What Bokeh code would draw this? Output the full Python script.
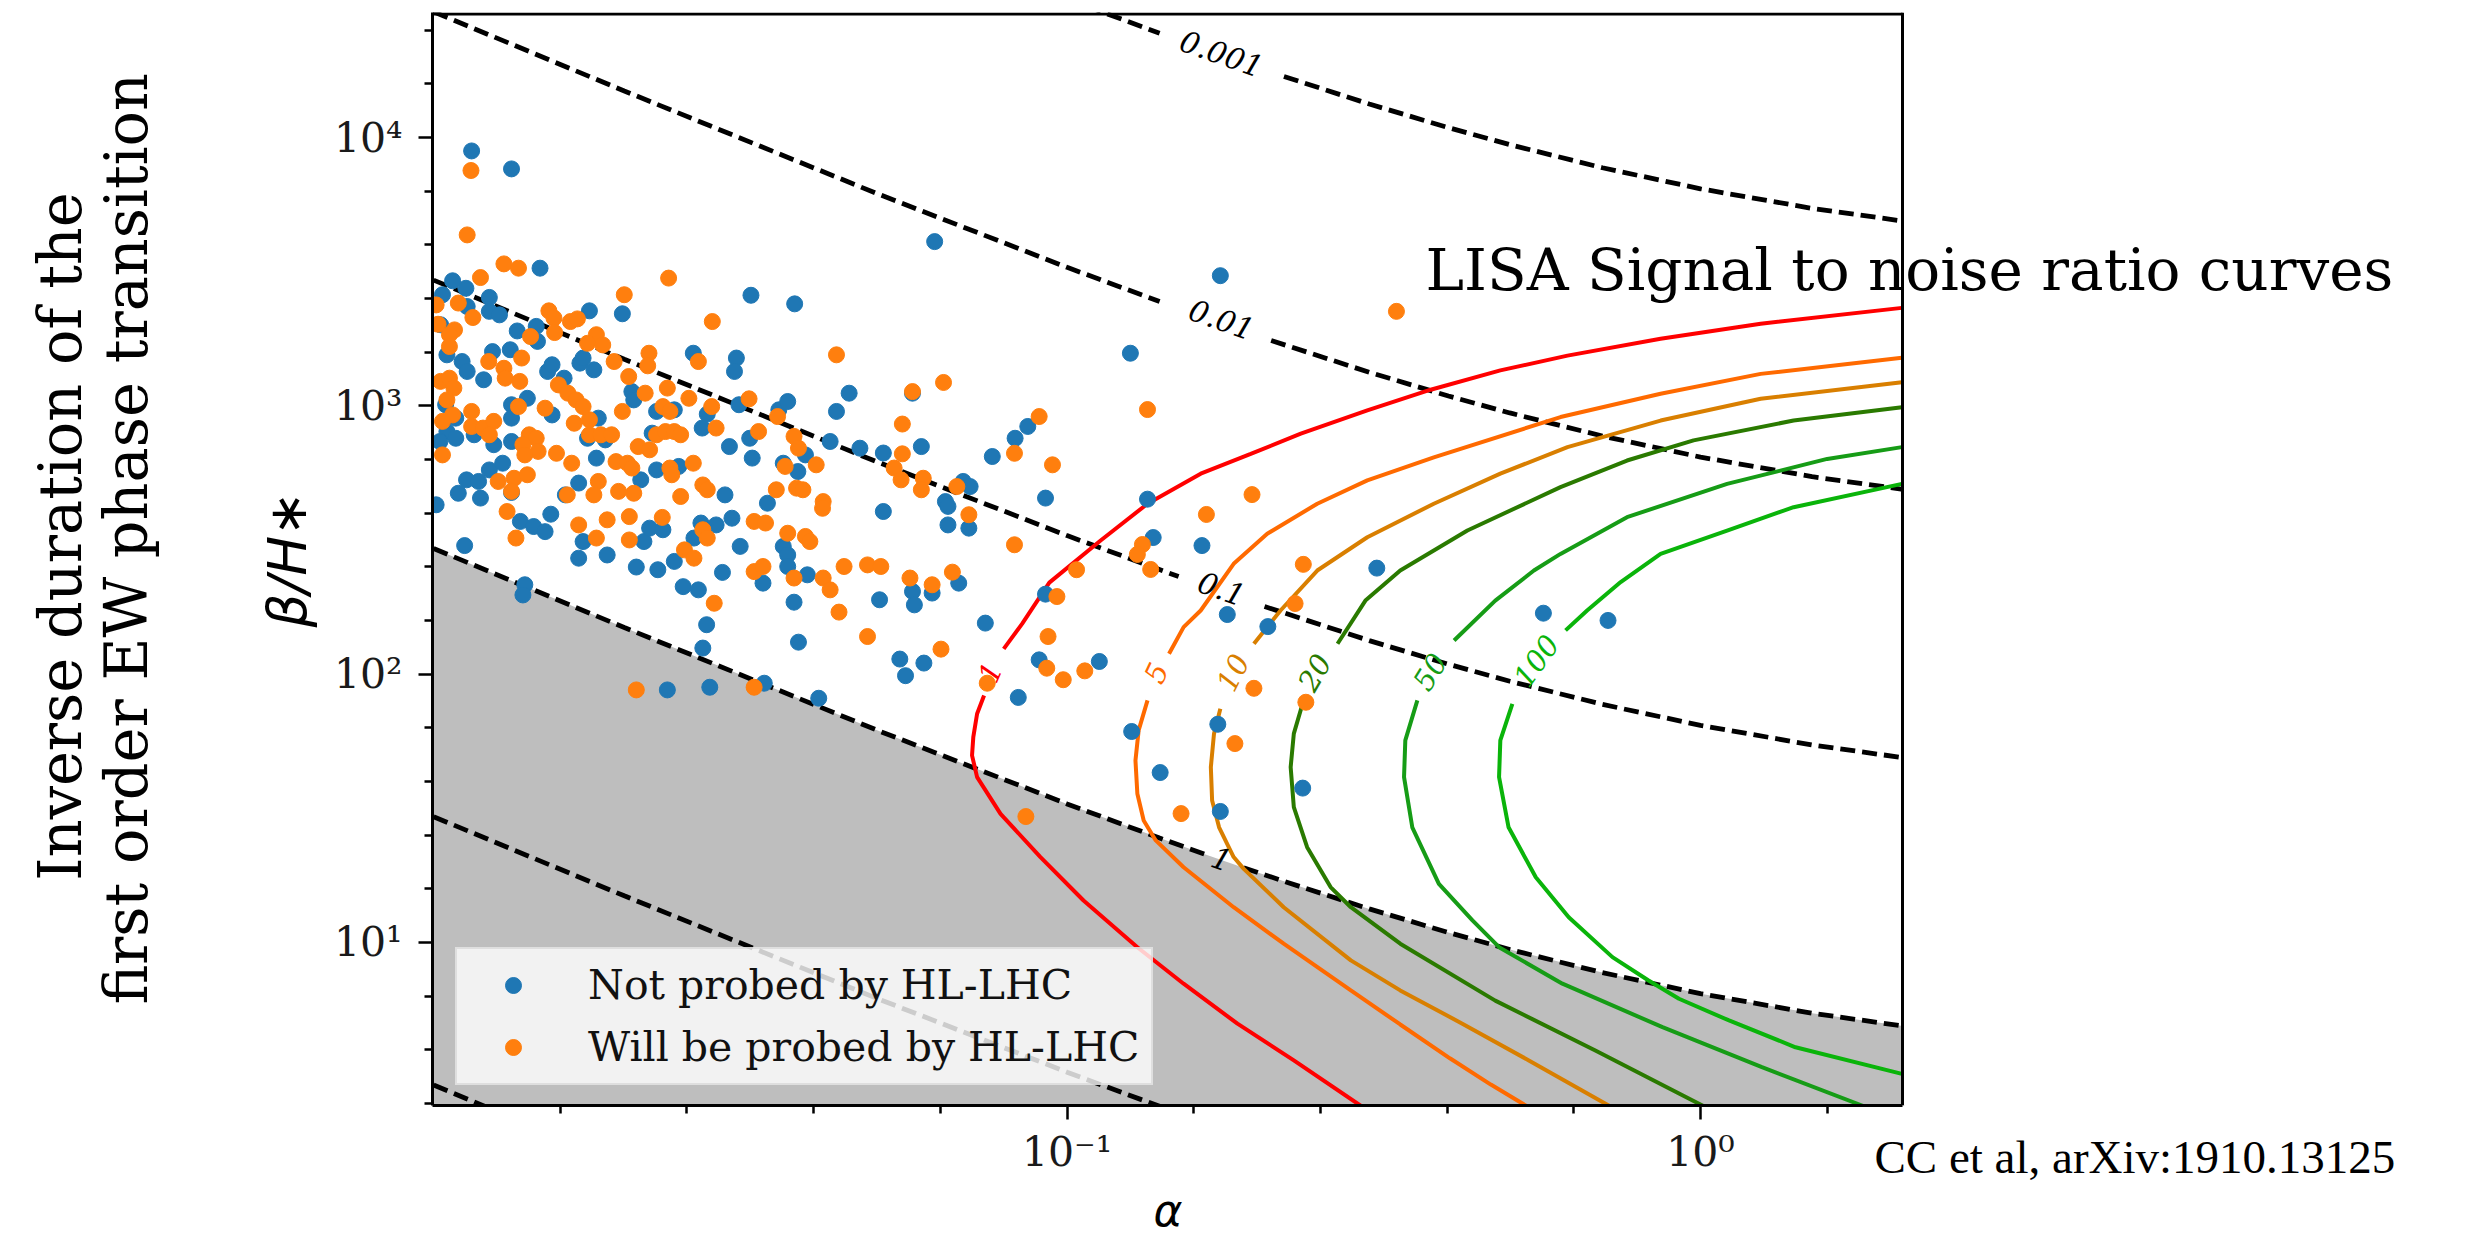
import math
import numpy as np
from bokeh.plotting import figure
from bokeh.models import Range1d, FixedTicker, Label, BoxAnnotation, Span
from bokeh.embed import file_html
from bokeh.resources import INLINE

nan = float("nan")

# ---------------- data ----------------
# scatter points, stored as (log10 alpha, log10 beta/H*)
not_probed_pts = [
    (-1.940, 3.950), (-1.877, 3.883), (-1.832, 3.513), (-1.970, 3.466), (-1.986, 3.414), (-1.949, 3.438), (-1.947, 3.370), (-1.912, 3.404), (-1.912, 3.352), (-1.896, 3.339),
    (-1.702, 3.343), (-1.499, 3.412), (-1.430, 3.380), (-1.754, 3.354), (-1.209, 3.612), (-1.989, 3.302), (-1.979, 3.190), (-1.868, 3.279), (-1.838, 3.296), (-1.836, 3.240),
    (-1.907, 3.202), (-1.879, 3.209), (-1.820, 3.128), (-1.813, 3.153), (-1.955, 3.165), (-1.947, 3.128), (-1.921, 3.097), (-1.794, 3.103), (-1.769, 3.159), (-1.764, 3.178),
    (-1.747, 3.134), (-1.590, 3.196), (-1.522, 3.178), (-1.525, 3.128), (-1.244, 3.047), (-1.344, 3.047), (-1.364, 2.979), (-1.062, 2.923), (-1.082, 2.879), (-1.118, 2.811),
    (-1.230, 2.848), (-1.290, 2.824), (-1.327, 2.842), (-1.374, 2.867), (-1.413, 2.817), (-1.425, 2.755), (-1.448, 2.786), (-1.455, 2.985), (-1.441, 3.016), (-1.518, 3.004),
    (-1.568, 2.969), (-1.576, 2.917), (-1.687, 3.053), (-1.684, 3.022), (-1.648, 2.979), (-1.620, 2.985), (-1.740, 2.954), (-1.813, 2.966), (-1.877, 3.004), (-1.877, 2.954),
    (-1.852, 3.028), (-1.981, 3.004), (-1.965, 2.954), (-1.979, 2.904), (-1.965, 2.879), (-1.936, 2.892), (-1.905, 2.855), (-1.990, 2.867), (-1.877, 2.867), (-1.743, 2.805),
    (-1.757, 2.879), (-1.729, 2.873), (-1.655, 2.898), (-1.533, 2.848), (-1.501, 2.879), (-1.497, 2.805), (-1.648, 2.761), (-1.613, 2.774), (-1.912, 2.761), (-1.891, 2.786),
    (-1.948, 2.724), (-1.929, 2.718), (-1.961, 2.674), (-1.877, 2.677), (-1.926, 2.656), (-1.771, 2.712), (-1.673, 2.724), (-1.540, 2.668), (-1.164, 2.718), (-1.153, 2.699),
    (-1.034, 2.656), (-1.192, 2.643), (-1.792, 2.668),
    (-1.996, 2.631), (-1.863, 2.569), (-1.842, 2.550), (-1.824, 2.531), (-1.815, 2.596), (-1.951, 2.479), (-1.771, 2.432), (-1.764, 2.494), (-1.726, 2.444), (-1.680, 2.399),
    (-1.668, 2.494), (-1.659, 2.544), (-1.646, 2.389), (-1.638, 2.538), (-1.620, 2.420), (-1.589, 2.507), (-1.578, 2.563), (-1.554, 2.556), (-1.544, 2.379), (-1.529, 2.581),
    (-1.516, 2.476), (-1.480, 2.339), (-1.473, 2.637), (-1.448, 2.476), (-1.441, 2.444), (-1.441, 2.401), (-1.410, 2.370), (-1.290, 2.606), (-1.244, 2.308), (-1.241, 2.258),
    (-1.213, 2.302), (-1.171, 2.339), (-1.188, 2.625), (-1.188, 2.556), (-1.155, 2.544), (-1.034, 2.298), (-1.129, 2.190), (-1.264, 2.056), (-1.255, 1.994), (-1.226, 2.041),
    (-1.044, 2.053), (-0.949, 2.047), (-1.077, 1.913), (-1.606, 2.326), (-1.582, 2.314), (-1.569, 2.184), (-1.575, 2.097), (-1.431, 2.268), (-1.424, 2.119), (-1.296, 2.277),
    (-1.856, 2.333), (-1.859, 2.295), (-1.631, 1.941), (-1.564, 1.951), (-1.478, 1.966), (-1.392, 1.910),
    (-0.758, 3.485), (-0.900, 3.196), (-0.873, 2.652), (-0.864, 2.509), (-0.787, 2.479), (-0.511, 2.395), (-0.747, 2.222), (-0.683, 2.177), (-0.248, 2.227), (-0.146, 2.200),
    (-0.762, 1.813), (-0.628, 1.575), (-0.898, 1.786), (-0.853, 1.633), (-0.758, 1.488),
]
will_be_probed_pts = [
    (-1.941, 3.877), (-1.947, 3.637), (-1.889, 3.529), (-1.866, 3.513), (-1.926, 3.478), (-1.961, 3.383), (-1.938, 3.329), (-1.996, 3.376), (-1.629, 3.476), (-1.699, 3.414),
    (-1.818, 3.354), (-1.810, 3.327), (-1.784, 3.314), (-1.773, 3.324), (-1.560, 3.314), (-1.993, 3.304), (-1.967, 3.283), (-1.975, 3.265), (-1.975, 3.221), (-1.847, 3.258),
    (-1.809, 3.273), (-1.743, 3.265), (-1.757, 3.233), (-1.733, 3.227), (-1.913, 3.165), (-1.889, 3.140), (-1.861, 3.178), (-1.887, 3.103), (-1.864, 3.091), (-1.715, 3.165),
    (-1.660, 3.196), (-1.662, 3.149), (-1.692, 3.109), (-1.582, 3.165), (-1.364, 3.190), (-1.195, 3.087), (-1.244, 3.053), (-1.044, 2.960), (-1.083, 2.823), (-1.023, 2.780),
    (-1.260, 2.932), (-1.260, 2.821), (-1.396, 2.780), (-1.445, 2.774), (-1.457, 2.960), (-1.431, 2.886), (-1.424, 2.842), (-1.502, 3.026), (-1.561, 2.997), (-1.554, 2.917),
    (-1.597, 3.028), (-1.631, 3.066), (-1.666, 3.047), (-1.638, 2.997), (-1.627, 2.979), (-1.702, 2.979), (-1.754, 2.948), (-1.778, 2.935), (-1.824, 2.991), (-1.866, 2.997),
    (-1.803, 3.078), (-1.788, 3.047), (-1.775, 3.022), (-1.764, 2.997), (-1.989, 3.091), (-1.975, 3.103), (-1.968, 3.066), (-1.979, 3.022), (-1.970, 2.966), (-1.940, 2.979),
    (-1.986, 2.942), (-1.940, 2.923), (-1.922, 2.917), (-1.905, 2.942), (-1.912, 2.892), (-1.986, 2.817), (-1.849, 2.892), (-1.838, 2.879), (-1.859, 2.855), (-1.835, 2.830),
    (-1.856, 2.817), (-1.806, 2.823), (-1.782, 2.786), (-1.754, 2.892), (-1.736, 2.892), (-1.719, 2.892), (-1.677, 2.848), (-1.659, 2.836), (-1.648, 2.892), (-1.634, 2.904),
    (-1.620, 2.904), (-1.610, 2.892), (-1.487, 2.904), (-1.590, 2.786), (-1.712, 2.792), (-1.694, 2.786), (-1.687, 2.768), (-1.627, 2.768), (-1.624, 2.743), (-1.898, 2.718),
    (-1.873, 2.730), (-1.852, 2.743), (-1.877, 2.681), (-1.789, 2.668), (-1.740, 2.718), (-1.747, 2.668), (-1.708, 2.681), (-1.684, 2.674), (-1.610, 2.662), (-1.575, 2.705),
    (-1.568, 2.687), (-1.459, 2.687), (-1.427, 2.693), (-1.417, 2.687), (-1.385, 2.643), (-1.174, 2.699), (-1.273, 2.768), (-1.262, 2.724), (-1.227, 2.730), (-1.230, 2.687),
    (-1.884, 2.606), (-1.870, 2.507), (-1.771, 2.556), (-1.743, 2.507), (-1.726, 2.575), (-1.691, 2.587), (-1.691, 2.500), (-1.639, 2.584), (-1.604, 2.463), (-1.589, 2.432),
    (-1.575, 2.538), (-1.568, 2.507), (-1.494, 2.569), (-1.476, 2.563), (-1.494, 2.382), (-1.480, 2.401), (-1.441, 2.525), (-1.431, 2.358), (-1.413, 2.513), (-1.406, 2.494),
    (-1.386, 2.618), (-1.385, 2.358), (-1.374, 2.314), (-1.352, 2.401), (-1.315, 2.407), (-1.294, 2.401), (-1.248, 2.358), (-1.213, 2.333), (-1.181, 2.380), (-1.155, 2.594),
    (-1.083, 2.482), (-0.985, 2.389), (-1.016, 2.289), (-1.030, 2.140), (-1.315, 2.140), (-1.199, 2.093), (-1.126, 1.966), (-1.032, 2.022), (-1.006, 1.979), (-0.972, 2.012),
    (-1.065, 1.469), (-1.557, 2.264), (-1.360, 2.231), (-1.680, 1.941), (-1.494, 1.951),
    (-0.480, 3.352), (-0.873, 2.986), (-0.780, 2.595), (-0.708, 2.669), (-0.881, 2.483), (-0.889, 2.446), (-0.868, 2.390), (-0.627, 2.409), (-0.640, 2.263), (-0.705, 1.947),
    (-0.623, 1.895), (-0.735, 1.741), (-0.820, 1.480),
]

# dashed contours (H* tau_sh levels): alpha and beta/H* values
tau_levels = ["0.001", "0.01", "0.1", "1", "10", "100"]
tau_0p001_alpha = [0.01, 0.02, 0.05, 0.1, 0.14, nan, 0.22, 0.3, 0.4, 0.5, 0.7, 1.0, 1.5, 2.1]
tau_0p001_beta = [294000, 149100, 61940, 32820, 24480, nan, 16890, 13330, 10880, 9405, 7714, 6440, 5444, 4871]
tau_0p01_alpha = [0.01, 0.02, 0.05, 0.1, 0.14, nan, 0.21, 0.3, 0.4, 0.5, 0.7, 1.0, 1.5, 2.1]
tau_0p01_beta = [29400, 14910, 6194, 3282, 2448, nan, 1752, 1333, 1088, 940.5, 771.4, 644.0, 544.4, 487.1]
tau_0p1_alpha = [0.01, 0.02, 0.05, 0.1, 0.15, nan, 0.205, 0.3, 0.4, 0.5, 0.7, 1.0, 1.5, 2.1]
tau_0p1_beta = [2940, 1491, 619.4, 328.2, 230.9, nan, 178.6, 133.3, 108.8, 94.05, 77.14, 64.40, 54.44, 48.71]
tau_1_alpha = [0.01, 0.02, 0.05, 0.1, 0.14, 0.165, nan, 0.19, 0.22, 0.3, 0.4, 0.5, 0.7, 1.0, 1.5, 2.1]
tau_1_beta = [294.0, 149.1, 61.94, 32.82, 24.48, 21.32, nan, 18.99, 16.89, 13.33, 10.88, 9.405, 7.714, 6.440, 5.444, 4.871]
tau_10_alpha = [0.01, 0.02, 0.05, 0.1, 0.14, 0.2]
tau_10_beta = [29.40, 14.91, 6.194, 3.282, 2.448, 1.822]
tau_100_alpha = [0.01, 0.02]
tau_100_beta = [2.940, 1.491]

# shaded region boundary (tau_sh H* = 1)
shade_alpha = [0.01, 0.02, 0.05, 0.1, 0.14, 0.165, 0.19, 0.22, 0.3, 0.4, 0.5, 0.7, 1.0, 1.5, 2.1]
shade_beta = [294.0, 149.1, 61.94, 32.82, 24.48, 21.32, 18.99, 16.89, 13.33, 10.88, 9.405, 7.714, 6.440, 5.444, 4.871]

# LISA SNR contours, log10 alpha / log10 beta (nan = gap for the inline label)
snr_levels = ["1", "5", "10", "20", "50", "100"]
snr1_log_alpha = [0.318, 0.095, -0.063, -0.210, -0.316, -0.426, -0.526, -0.631, -0.710, -0.789, -0.873, -0.947, -1.028, -1.071, -1.100, nan,
                  -1.131, -1.142, -1.148, -1.150, -1.142, -1.105, -1.042, -0.974, -0.889, -0.816, -0.731, -0.642, -0.537, -0.506]
snr1_log_beta = [3.365, 3.306, 3.250, 3.187, 3.132, 3.060, 2.983, 2.896, 2.821, 2.747, 2.635, 2.498, 2.341, 2.187, 2.094, nan,
                 1.920, 1.852, 1.765, 1.697, 1.616, 1.479, 1.318, 1.156, 0.982, 0.846, 0.697, 0.560, 0.392, 0.342]
snr5_log_alpha = [0.318, 0.095, -0.063, -0.221, -0.421, -0.526, -0.605, -0.684, -0.737, -0.789, -0.816, -0.839, nan,
                  -0.873, -0.887, -0.892, -0.889, -0.879, -0.860, -0.816, -0.737, -0.658, -0.552, -0.474, -0.395, -0.331, -0.276, -0.250]
snr5_log_beta = [3.179, 3.119, 3.045, 2.958, 2.808, 2.722, 2.635, 2.523, 2.411, 2.237, 2.175, 2.076, nan,
                 1.902, 1.790, 1.678, 1.554, 1.454, 1.380, 1.280, 1.131, 0.995, 0.821, 0.694, 0.567, 0.470, 0.392, 0.340]
snr10_log_alpha = [0.318, 0.095, -0.063, -0.210, -0.316, -0.421, -0.526, -0.605, -0.663, -0.705, nan,
                   -0.758, -0.768, -0.773, -0.771, -0.760, -0.737, -0.721, -0.658, -0.552, -0.474, -0.376, -0.271, -0.145, -0.110]
snr10_log_beta = [3.088, 3.026, 2.945, 2.846, 2.747, 2.635, 2.510, 2.386, 2.237, 2.113, nan,
                  1.871, 1.778, 1.653, 1.529, 1.429, 1.318, 1.274, 1.131, 0.933, 0.821, 0.697, 0.560, 0.392, 0.340]
snr20_log_alpha = [0.318, 0.147, -0.011, -0.116, -0.221, -0.368, -0.474, -0.529, -0.573, nan,
                   -0.629, -0.642, -0.647, -0.642, -0.621, -0.584, -0.552, -0.474, -0.324, -0.166, 0.003, 0.040]
snr20_log_beta = [2.995, 2.945, 2.871, 2.796, 2.697, 2.535, 2.386, 2.274, 2.113, nan,
                  1.883, 1.778, 1.653, 1.504, 1.355, 1.206, 1.131, 0.995, 0.783, 0.597, 0.392, 0.340]
snr50_log_alpha = [0.318, 0.200, 0.042, -0.116, -0.221, -0.263, -0.324, -0.389, nan,
                   -0.447, -0.466, -0.468, -0.455, -0.413, -0.360, -0.318, -0.218, -0.060, 0.097, 0.255, 0.290]
snr50_log_beta = [2.846, 2.802, 2.709, 2.585, 2.448, 2.386, 2.274, 2.125, nan,
                  1.902, 1.753, 1.616, 1.429, 1.218, 1.082, 0.982, 0.846, 0.684, 0.535, 0.392, 0.350]
snr100_log_alpha = [0.318, 0.147, 0.042, -0.063, -0.126, -0.179, -0.213, nan,
                    -0.297, -0.316, -0.318, -0.303, -0.260, -0.208, -0.139, -0.082, -0.034, 0.045, 0.150, 0.318, 0.350]
snr100_log_beta = [2.709, 2.622, 2.535, 2.448, 2.343, 2.237, 2.163, nan,
                   1.889, 1.753, 1.616, 1.429, 1.243, 1.094, 0.945, 0.858, 0.790, 0.709, 0.609, 0.510, 0.500]

x_tick_labels = {0.1: "10\u207b\u00b9", 1.0: "10\u2070"}
y_tick_labels = {10: "10\u00b9", 100: "10\u00b2", 1000: "10\u00b3", 10000: "10\u2074"}
legend_labels = ["Not probed by HL-LHC", "Will be probed by HL-LHC"]

# axes limits of the drawn box
ALPHA_MIN, ALPHA_MAX = 0.00996, 2.084
BETA_MIN, BETA_MAX = 2.466, 29240

# ---------------- figure ----------------
# the frame is widened to the right edge of the page so the LISA caption can overflow the axes box;
# the visible box ends at ALPHA_MAX (right spine + white mask beyond it)
p = figure(width=2476, height=1240, x_axis_type="log", y_axis_type="log",
           x_range=Range1d(ALPHA_MIN, 16.79), y_range=Range1d(BETA_MIN, BETA_MAX),
           output_backend="svg", toolbar_location=None,
           min_border_left=432, min_border_right=0, min_border_top=12, min_border_bottom=135,
           background_fill_color="white", border_fill_color="white")
p.outline_line_color = None
p.xgrid.visible = False
p.ygrid.visible = False

x_minor = [10 ** (k / 5) for k in range(-9, 2) if k % 5 != 0]
y_minor = [10 ** (k / 5) for k in range(2, 23) if k % 5 != 0]
p.xaxis.ticker = FixedTicker(ticks=list(x_tick_labels.keys()), minor_ticks=x_minor)
p.yaxis.ticker = FixedTicker(ticks=list(y_tick_labels.keys()), minor_ticks=y_minor)
p.xaxis.major_label_overrides = x_tick_labels
p.yaxis.major_label_overrides = y_tick_labels
p.xaxis.bounds = (ALPHA_MIN, ALPHA_MAX)
for ax in (p.xaxis[0], p.yaxis[0]):
    ax.axis_line_width = 3
    ax.axis_line_color = "black"
    ax.major_tick_line_width = 2.5
    ax.minor_tick_line_width = 2.5
    ax.major_tick_in = 0
    ax.minor_tick_in = 0
    ax.major_tick_out = 14
    ax.minor_tick_out = 8
    ax.major_label_text_font = "DejaVu Serif"
    ax.major_label_text_font_size = "41px"
    ax.major_label_text_color = "#1a1a1a"
p.xaxis.major_label_standoff = 8
p.yaxis.major_label_standoff = 16

# shaded region
p.varea(x=shade_alpha, y1=[1.0] * len(shade_alpha), y2=shade_beta, fill_color="#bebebe")

# dashed tau contours
for a, b in [(tau_0p001_alpha, tau_0p001_beta), (tau_0p01_alpha, tau_0p01_beta), (tau_0p1_alpha, tau_0p1_beta),
             (tau_1_alpha, tau_1_beta), (tau_10_alpha, tau_10_beta), (tau_100_alpha, tau_100_beta)]:
    p.line(a, b, line_color="black", line_width=4.8, line_dash="15 7")

# SNR contours
snr_colors = ["#ff0000", "#ff6a00", "#d97f00", "#2a7a00", "#169c16", "#0ab40a"]
snr_curves = [(snr1_log_alpha, snr1_log_beta), (snr5_log_alpha, snr5_log_beta), (snr10_log_alpha, snr10_log_beta),
              (snr20_log_alpha, snr20_log_beta), (snr50_log_alpha, snr50_log_beta), (snr100_log_alpha, snr100_log_beta)]
for (la, lb), c in zip(snr_curves, snr_colors):
    p.line(10 ** np.array(la), 10 ** np.array(lb), line_color=c, line_width=4)

# scatter points
bx = 10 ** np.array([a for a, b in not_probed_pts])
by = 10 ** np.array([b for a, b in not_probed_pts])
ox = 10 ** np.array([a for a, b in will_be_probed_pts])
oy = 10 ** np.array([b for a, b in will_be_probed_pts])
p.scatter(bx, by, size=16, fill_color="#1f77b4", line_color="#1f77b4", legend_label=legend_labels[0])
p.scatter(ox, oy, size=16, fill_color="#ff7f0e", line_color="#ff7f0e", legend_label=legend_labels[1])

leg = p.legend[0]
leg.location = (23, 20)
leg.label_text_font = "DejaVu Serif"
leg.label_text_font_size = "41px"
leg.label_text_color = "#111111"
leg.glyph_width = 88
leg.glyph_height = 40
leg.label_height = 40
leg.label_standoff = 31
leg.spacing = 14
leg.padding = 12
leg.margin = 0
leg.border_line_color = "#cccccc"
leg.border_line_width = 2
leg.background_fill_color = "white"
leg.background_fill_alpha = 0.8

# white mask right of the axes box, then the top and right spines
p.add_layout(BoxAnnotation(left=ALPHA_MAX, fill_color="white", fill_alpha=1.0, line_color=None))
p.add_layout(BoxAnnotation(left=ALPHA_MIN, right=ALPHA_MAX, bottom=10 ** (math.log10(BETA_MAX) - 3 / 268.3),
                           fill_color="black", fill_alpha=1.0, line_color=None))
p.add_layout(Span(location=ALPHA_MAX, dimension="height", line_color="black", line_width=3))


def lab(x, y, text, size, font="DejaVu Serif", color="black", style="normal", angle_deg=0.0,
        align="center", baseline="middle", place="center"):
    p.add_layout(Label(x=x, y=y, text=text, text_font=font, text_font_size=size, text_color=color,
                       text_font_style=style, angle=math.radians(angle_deg), angle_units="rad",
                       text_align=align, text_baseline=baseline), place)


# dashed-contour inline labels
for txt, ly in zip(tau_levels[:4], [4.313, 3.322, 2.319, 1.312]):
    lab(10 ** -0.756, 10 ** ly, txt, "30px", style="italic", angle_deg=-19.2)

# SNR inline labels
snr_label_pos = [(-1.122, 2.007, 66), (-0.860, 2.005, 65), (-0.739, 2.007, 63), (-0.610, 2.007, 60), (-0.428, 2.010, 58), (-0.260, 2.051, 54)]
for txt, c, (lx, ly, ang) in zip(snr_levels, snr_colors, snr_label_pos):
    lab(10 ** lx, 10 ** ly, txt, "29px", color=c, style="italic", angle_deg=ang)

# caption overflowing the axes box (inside the widened frame)
lab(10 ** -0.4341, 10 ** 3.505, "LISA Signal to noise ratio curves", "58px", align="left", baseline="alphabetic")

# texts in the page margins: placed in side panels so they are not clipped to the frame
lab(10 ** -0.8406, 10 ** 0.0, "\u03b1", "44px", font="DejaVu Sans", style="italic", place="left")
lab(10 ** -2.2305, 10 ** 2.427, "\u03b2/H\u2217", "53px", font="DejaVu Sans", style="italic", angle_deg=90, place="left")
lab(10 ** -2.589, 10 ** 2.513, "Inverse duration of the", "59px", angle_deg=90, baseline="alphabetic", place="left")
lab(10 ** -2.485, 10 ** 2.505, "first order EW phase transition", "59px", angle_deg=90, baseline="alphabetic", place="left")
lab(10 ** 0.2747, 10 ** 0.2015, "CC et al, arXiv:1910.13125", "47px", font="Liberation Serif", align="left", baseline="alphabetic", place="below")

open("out.html", "w").write(file_html(p, INLINE))
